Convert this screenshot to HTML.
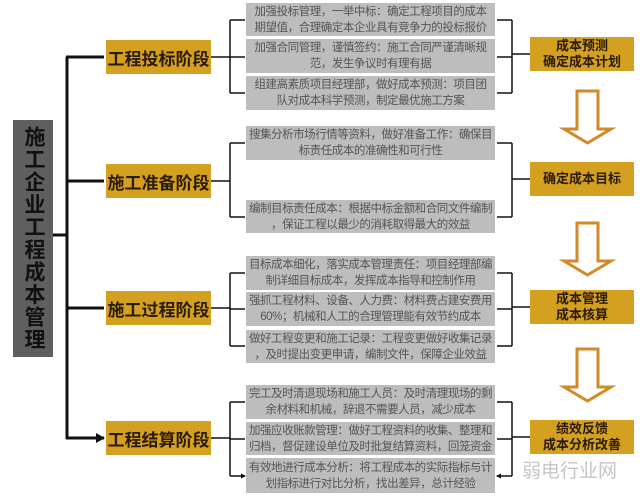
<!DOCTYPE html>
<html><head><meta charset="utf-8">
<style>
body{margin:0;width:640px;height:497px;background:#fff;position:relative;overflow:hidden;font-family:"Liberation Sans","Noto Sans CJK SC",sans-serif;}
.a{position:absolute;box-sizing:border-box;display:flex;align-items:center;justify-content:center;text-align:center;}
.st{background:#D4A020;color:#2a1a08;font-weight:bold;font-size:17px;left:106px;width:105px;height:34px;}
.g{background:#bdbdbd;color:#555;font-size:11.5px;line-height:16px;left:246px;width:249px;padding:0;letter-spacing:-0.45px;}
.r{background:#D4A020;color:#2a1a08;font-weight:bold;font-size:13px;line-height:16px;left:530px;width:104px;height:34px;}
</style></head><body>
<svg width="640" height="497" style="position:absolute;left:0;top:0">
<defs><marker id="m" markerUnits="userSpaceOnUse" markerWidth="9" markerHeight="10" refX="8" refY="5" orient="auto"><path d="M0,0L9,5L0,10z" fill="#111"/></marker>
<marker id="s" markerUnits="userSpaceOnUse" markerWidth="5" markerHeight="5" refX="4" refY="2.5" orient="auto"><path d="M0,0L5,2.5L0,5z" fill="#111"/></marker></defs>
<g stroke="#111" fill="none">
<path d="M53,235H67" stroke-width="3"/>
<path d="M67,57V439" stroke-width="3"/>
<path d="M66,57H104M66,181H104M66,308H104M66,438H104" stroke-width="3" marker-end="url(#m)"/>
<g stroke-width="1.5">
<path d="M211,57H230M230,20V93M211,181H230M230,143V217M211,308H230M230,273V346M211,438H230M230,402V476"/>
<path d="M230,20H245M230,57H245M230,93H245M230,143H245M230,217H245M230,273H245M230,309H245M230,346H245M230,402H245M230,439H245M230,476H245" marker-end="url(#s)"/>
<path d="M530,54H512M512,20V93M530,179H512M512,143V217M530,307H512M512,273V346M530,437H512M512,402V476"/>
<path d="M512,20H497M512,57H497M512,93H497M512,143H497M512,217H497M512,273H497M512,309H497M512,346H497M512,402H497M512,439H497M512,476H497" marker-end="url(#s)"/>
</g></g>
<g fill="#fff" stroke="#D08A2A" stroke-width="3" stroke-linejoin="miter">
<path d="M577,91H598V129H611L587.5,143L564,129H577Z"/>
<path d="M577,223H598V261H611L587.5,275L564,261H577Z"/>
<path d="M577,349H598V387H611L587.5,401L564,387H577Z"/>
</g>
</svg>
<div class="a" style="left:13px;top:120px;width:40px;height:237px;background:#5f5f5f;color:#111;font-weight:bold;font-size:21px;line-height:26px;writing-mode:vertical-rl;letter-spacing:1.5px">施工企业工程成本管理</div>
<div class="a st" style="top:40px">工程投标阶段</div>
<div class="a st" style="top:164px">施工准备阶段</div>
<div class="a st" style="top:291px">施工过程阶段</div>
<div class="a st" style="top:421px">工程结算阶段</div>
<div class="a g" style="top:3px;height:33px">加强投标管理，一举中标：确定工程项目的成本<br>期望值，合理确定本企业具有竞争力的投标报价</div>
<div class="a g" style="top:39px;height:34px">加强合同管理，谨慎签约：施工合同严谨清晰规<br>范，发生争议时有理有据</div>
<div class="a g" style="top:76px;height:34px">组建高素质项目经理部，做好成本预测：项目团<br>队对成本科学预测，制定最优施工方案</div>
<div class="a g" style="top:126px;height:34px">搜集分析市场行情等资料，做好准备工作：确保目<br>标责任成本的准确性和可行性</div>
<div class="a g" style="top:200px;height:33px">编制目标责任成本：根据中标金额和合同文件编制<br>，保证工程以最少的消耗取得最大的效益</div>
<div class="a g" style="top:256px;height:34px">目标成本细化，落实成本管理责任：项目经理部编<br>制详细目标成本，发挥成本指导和控制作用</div>
<div class="a g" style="top:292px;height:34px">强抓工程材料、设备、人力费：材料费占建安费用<br>60%；机械和人工的合理管理能有效节约成本</div>
<div class="a g" style="top:330px;height:33px">做好工程变更和施工记录：工程变更做好收集记录<br>，及时提出变更申请，编制文件，保障企业效益</div>
<div class="a g" style="top:385px;height:34px">完工及时清退现场和施工人员：及时清理现场的剩<br>余材料和机械，辞退不需要人员，减少成本</div>
<div class="a g" style="top:422px;height:33px">加强应收账款管理：做好工程资料的收集、整理和<br>归档，督促建设单位及时批复结算资料，回笼资金</div>
<div class="a g" style="top:458px;height:35px">有效地进行成本分析：将工程成本的实际指标与计<br>划指标进行对比分析，找出差异，总计经验</div>
<div class="a r" style="top:37px">成本预测<br>确定成本计划</div>
<div class="a r" style="top:162px">确定成本目标</div>
<div class="a r" style="top:290px">成本管理<br>成本核算</div>
<div class="a r" style="top:420px">绩效反馈<br>成本分析改善</div>
<div style="position:absolute;left:522px;top:456px;font-size:19px;color:rgba(150,150,150,0.55);">弱电行业网</div>
</body></html>
